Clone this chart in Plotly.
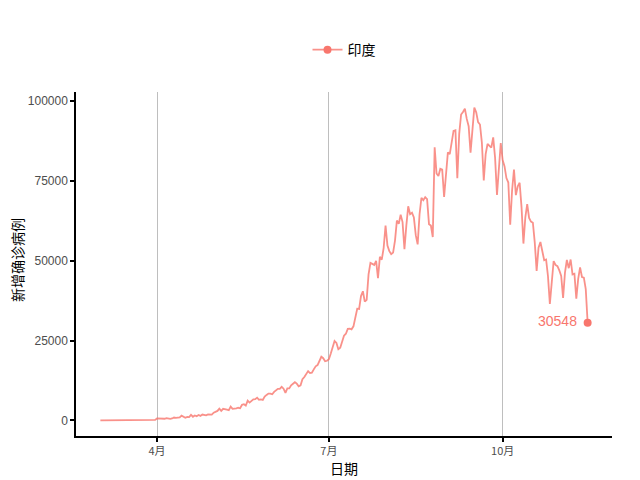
import pandas as pd
import plotly.graph_objects as go

# Daily new confirmed cases, India, 2020-03-02 .. 2020-11-15
start_date = "2020-03-02"
mar = [1, 1, 23, 2, 1, 3, 5, 4, 12, 6, 11, 9, 20, 11, 6, 23, 14, 38, 50, 86,
       66, 103, 37, 121, 70, 160, 100, 106, 227, 146]
apr = [601, 545, 478, 525, 505, 704, 508, 485, 591, 896, 768, 918, 905, 1463, 1118,
       826, 1076, 1001, 1708, 1135, 1540, 1290, 1667, 1408, 1835, 1607, 1561, 1873, 1738, 1801]
may = [2396, 2564, 2952, 3656, 2971, 3602, 3344, 3339, 3175, 4311, 3592, 3562, 3726, 3941,
       3787, 4864, 5050, 4630, 6147, 5553, 6198, 6568, 6629, 7111, 6414, 6535, 6387, 7466,
       7964, 8380, 8392]
jun = [8171, 8909, 9304, 9851, 9887, 10500, 9900, 8600, 9985, 9996, 10956, 11458, 11929,
       11502, 10667, 10974, 12881, 13586, 14516, 15413, 14821, 14933, 15968, 16922, 17296,
       18552, 19906, 19459, 18522, 18653]
jul = [19148, 20903, 22771, 24850, 24248, 22252, 22752, 24879, 26506, 27114, 28637, 28701,
       28498, 29429, 32695, 34956, 34884, 38902, 40425, 37148, 37724, 45720, 49310, 48916,
       48661, 49931, 44500, 51200, 50300, 54000, 61000]
aug = [54735, 52972, 52050, 52509, 56282, 62538, 61537, 64399, 62064, 53601, 60963, 66999,
       64553, 65002, 63490, 57981, 55079, 64531, 69652, 68898, 69878, 69239, 61408, 60975,
       57400, 85500, 77266, 76472, 78761, 78512, 69921]
sep = [78357, 83883, 83341, 86432, 90632, 90802, 75809, 89706, 95735, 96551, 97570, 94372,
       92071, 83809, 90123, 97894, 96424, 93337, 92605, 86961, 75083, 83347, 86508, 86052,
       85362, 88600, 82170, 70589, 80472, 86821]
oct_ = [81484, 79476, 75829, 74442, 61267, 72049, 78524, 70496, 73272, 74383, 66732, 55342,
        63509, 67708, 63371, 62212, 61871, 55722, 46790, 54044, 55839, 53370, 50129, 50356,
        45149, 36470, 43893, 49881, 48648, 48268, 46963]
nov = [45231, 38310, 46253, 50210, 47638, 50356, 45674, 45903, 38073, 44281, 47905, 44879,
       44684, 41100, 30548]

cases = mar + apr + may + jun + jul + aug + sep + oct_ + nov
dates = pd.date_range(start_date, periods=len(cases), freq="D")

tick_dates = ["2020-04-01", "2020-07-01", "2020-10-01"]
tick_labels = ["4月", "7月", "10月"]
series_name = "印度"
x_title = "日期"
y_title = "新增确诊病例"
y_ticks = [0, 25000, 50000, 75000, 100000]

COL = "#F8766D"
LINE_COL = "rgba(248,118,109,0.8)"
CJK = "Noto Sans CJK SC, Liberation Sans, sans-serif"
NUM = "Liberation Sans, Arial, sans-serif"

span = dates[-1] - dates[0]
xr = [dates[0] - span * 0.05, dates[-1] + span * 0.05]
ymax = max(cases)
yr = [-0.05 * ymax, 1.05 * ymax]

fig = go.Figure()
fig.add_trace(go.Scatter(x=dates, y=cases, mode="lines", showlegend=False,
                         line=dict(color=LINE_COL, width=1.8), hoverinfo="skip"))
fig.add_trace(go.Scatter(x=[dates[-1]], y=[cases[-1]], mode="markers", showlegend=False,
                         marker=dict(color=COL, size=8)))
fig.add_trace(go.Scatter(x=[None], y=[None], mode="lines+markers", name=series_name,
                         line=dict(color=LINE_COL, width=1.8),
                         marker=dict(color=COL, size=8)))
fig.add_annotation(x=dates[-1], y=cases[-1], text=str(cases[-1]), showarrow=False,
                   xanchor="right", yanchor="middle", xshift=-9, yshift=2,
                   font=dict(family=NUM, size=14, color=COL))
# y-axis title as rotated text, kept inside the figure's left edge
fig.add_annotation(xref="paper", yref="paper", x=0, y=0.5, text=y_title, showarrow=False,
                   textangle=-90, xanchor="center", yanchor="middle", xshift=-59, yshift=4,
                   font=dict(family=CJK, size=14, color="black"))

fig.update_layout(
    width=640, height=480,
    margin=dict(l=68, r=36, t=84, b=52),
    paper_bgcolor="white", plot_bgcolor="white",
    font=dict(family=CJK, color="black"),
    legend=dict(orientation="h", x=0.5, xanchor="center", y=1.122, yanchor="middle",
                font=dict(family=CJK, size=14, color="black"), itemwidth=30),
    xaxis=dict(type="date", range=xr, tickvals=tick_dates, ticktext=tick_labels,
               automargin=False,
               showgrid=True, gridcolor="#BEBEBE", gridwidth=1,
               showline=True, linecolor="black", linewidth=1.5,
               ticks="outside", ticklen=4, tickcolor="black", tickwidth=1.5,
               tickfont=dict(family=CJK, size=11, color="#4D4D4D"),
               title=dict(text=x_title, font=dict(family=CJK, size=14, color="black"), standoff=7),
               zeroline=False),
    yaxis=dict(range=yr, tickvals=y_ticks, ticktext=[str(v) for v in y_ticks],
               automargin=False,
               showgrid=False, showline=True, linecolor="black", linewidth=1.5,
               ticks="outside", ticklen=4, tickcolor="black", tickwidth=1.5,
               tickfont=dict(family=NUM, size=12, color="#4D4D4D"),
               zeroline=False),
)

fig.write_html("out.html")
